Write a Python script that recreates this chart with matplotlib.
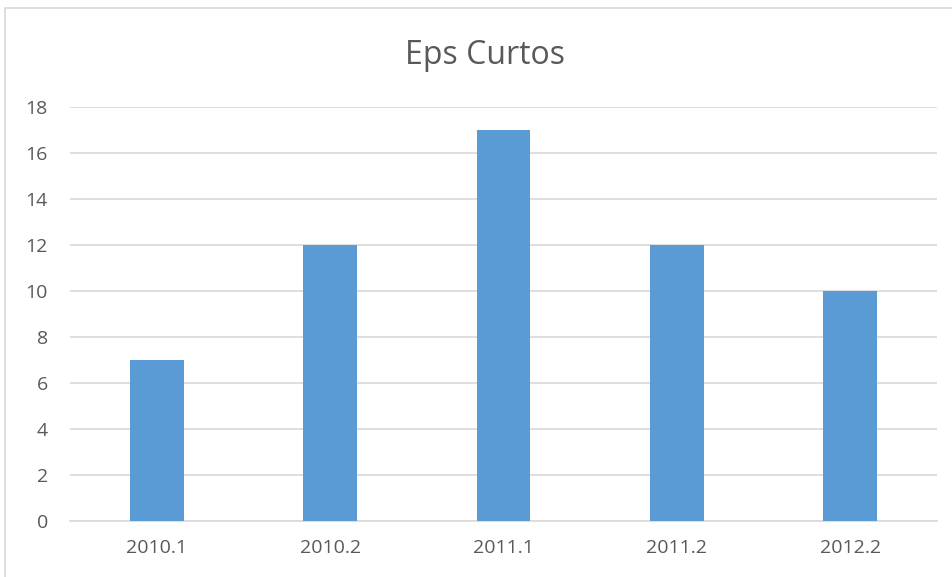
import matplotlib.pyplot as plt
from matplotlib.patches import Rectangle

# datos del grafico
semestres = ['2010.1', '2010.2', '2011.1', '2011.2', '2012.2']
eps = [7, 12, 17, 12, 10]
y_ticks = [0, 2, 4, 6, 8, 10, 12, 14, 16, 18]

plt.rcParams['font.family'] = ['Open Sans', 'DejaVu Sans']

fig = plt.figure(figsize=(9.53, 5.77), dpi=100)
ax = fig.add_axes([70/953, 1 - 521/577, 867/953, 414/577])

ax.bar(range(len(semestres)), eps, width=0.31, color='#5B9BD5', zorder=3)

ax.set_xlim(-0.5, len(semestres) - 0.5)
ax.set_ylim(0, 18)
ax.set_yticks(y_ticks)
ax.set_xticks(range(len(semestres)))
ax.set_xticklabels(semestres)
ax.tick_params(axis='both', length=0, colors='#595959', labelsize=14)
ax.tick_params(axis='x', pad=13)
ax.tick_params(axis='y', pad=16)
ax.grid(axis='y', color='#D9D9D9', linewidth=1.2, zorder=0)
for s in ['top', 'right', 'left']:
    ax.spines[s].set_visible(False)
ax.spines['bottom'].set_color('#D9D9D9')
ax.spines['bottom'].set_linewidth(1.2)

fig.text(485/953, 1 - 55/577, 'Eps Curtos', ha='center', va='center',
         fontsize=23, color='#595959')

# marco del grafico
fig.patches.append(Rectangle((5/953, -0.1), 1.2, 1.1 - 8/577, transform=fig.transFigure,
                             fill=False, edgecolor='#D9D9D9', linewidth=1.2))

fig.savefig('out.png', dpi=100)
